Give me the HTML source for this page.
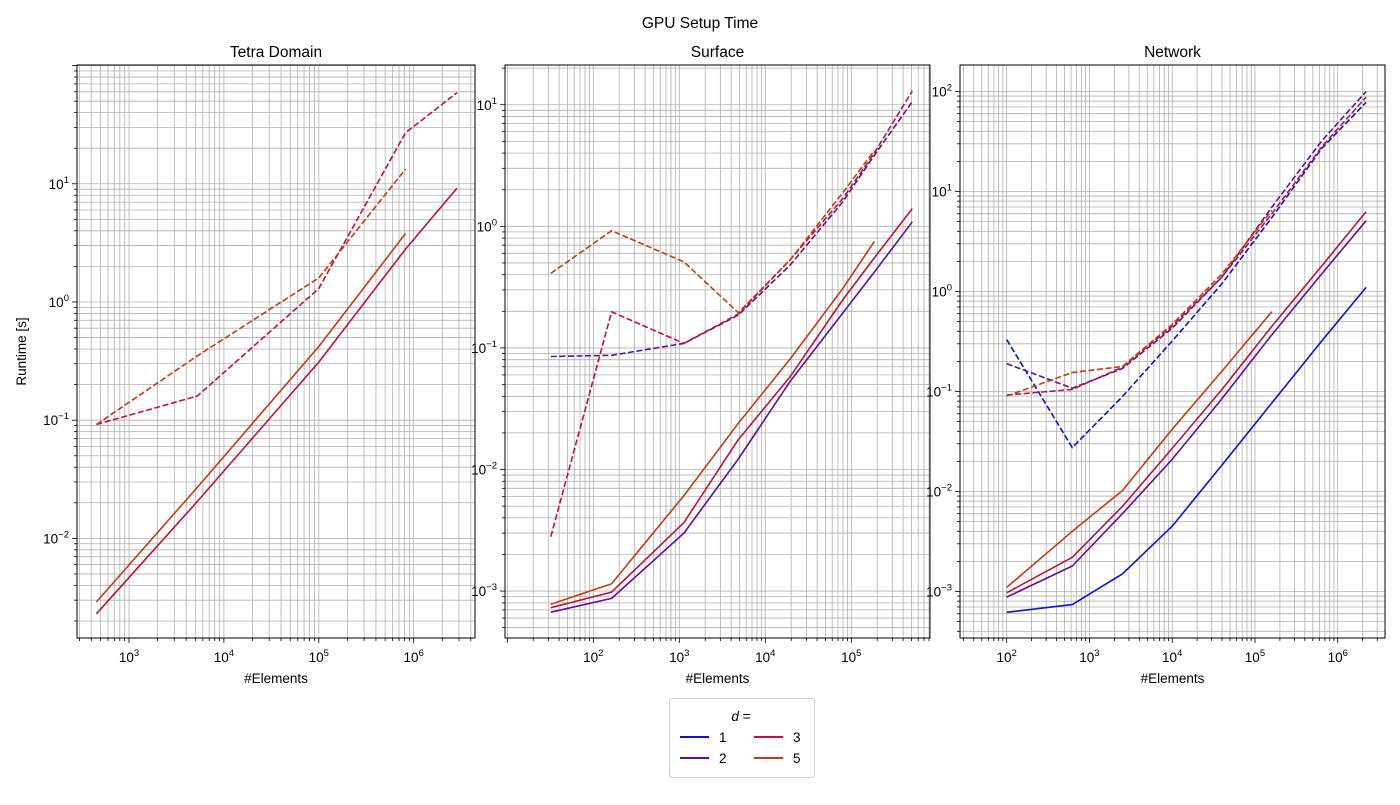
<!DOCTYPE html>
<html><head><meta charset="utf-8"><style>
body{margin:0;background:#fff}
svg text{font-family:"Liberation Sans","DejaVu Sans",sans-serif;fill:#000}
</style></head><body>
<svg id="chart" width="1400" height="800" viewBox="0 0 1400 800" xmlns="http://www.w3.org/2000/svg">
<text x="700" y="28" font-size="15.5" text-anchor="middle">GPU Setup Time</text>
<g id="legend">
<rect x="669.5" y="698.5" width="145" height="79" rx="3" fill="#fff" stroke="#d0d0d0"/>
<text x="741" y="721" font-size="13.5" text-anchor="middle"><tspan font-style="italic">d</tspan> =</text>
<g><line x1="680" y1="737" x2="709" y2="737" stroke="#0c10e0" stroke-width="2"/><text x="719" y="742" font-size="13.5">1</text></g>
<g><line x1="680" y1="758" x2="709" y2="758" stroke="#5f0fa0" stroke-width="2"/><text x="719" y="763" font-size="13.5">2</text></g>
<g><line x1="754" y1="737" x2="783" y2="737" stroke="#c2103a" stroke-width="2"/><text x="793" y="742" font-size="13.5">3</text></g>
<g><line x1="754" y1="758" x2="783" y2="758" stroke="#c43c0c" stroke-width="2"/><text x="793" y="763" font-size="13.5">5</text></g>
</g>
</svg>
<script>
// ---- data ----
const colors = {1:'#0c10e0',2:'#5f0fa0',3:'#c2103a',5:'#c43c0c'};
// Tetra Domain
const tetraX = [453, 5250, 100000, 820000, 2860000];
const tetraSolid3 = [0.0023, 0.0205, 0.31, 2.8, 9.2];
const tetraSolid5 = [0.0029, 0.027, 0.42, 3.8];
const tetraDash3 = [0.092, 0.16, 1.3, 27, 59];
const tetraDash5 = [0.092, 0.35, 1.6, 13.3];
// Surface
const surfX = [32, 163, 1130, 4850, 19400, 80000, 185000, 512000];
const surfSolid2 = [0.00067, 0.00087, 0.0030, 0.0122, 0.053, 0.195, 0.42, 1.09];
const surfSolid3 = [0.00073, 0.00098, 0.00366, 0.0176, 0.058, 0.25, 0.55, 1.4];
const surfSolid5 = [0.00078, 0.00115, 0.0061, 0.024, 0.081, 0.31, 0.75];
const surfDash2 = [0.085, 0.087, 0.109, 0.186, 0.48, 1.6, 3.84, 10.6];
const surfDash3 = [0.0028, 0.198, 0.109, 0.19, 0.53, 1.7, 4.0, 13];
const surfDash5 = [0.41, 0.92, 0.51, 0.195, 0.53, 1.9, 4.2];
// Network
const netX = [100, 620, 2500, 10000, 40000, 160000, 640000, 2200000];
const netSolid1 = [0.00062, 0.00074, 0.0015, 0.0045, 0.0184, 0.077, 0.32, 1.1];
const netSolid2 = [0.00088, 0.0018, 0.006, 0.021, 0.085, 0.37, 1.5, 5.1];
const netSolid3 = [0.00097, 0.0022, 0.0071, 0.027, 0.105, 0.45, 1.8, 6.3];
const netSolid5 = [0.0011, 0.004, 0.0102, 0.042, 0.16, 0.63];
const netDash1 = [0.33, 0.0275, 0.089, 0.32, 1.2, 5.5, 27, 78];
const netDash2 = [0.19, 0.108, 0.17, 0.43, 1.4, 7, 32, 100];
const netDash3 = [0.092, 0.105, 0.175, 0.45, 1.4, 6, 28, 88];
const netDash5 = [0.09, 0.155, 0.178, 0.47, 1.5, 6.5];

const panels = [
 {name:'tetra-domain', title:'Tetra Domain', L:77,R:475,T:65,B:638, xmin:2.452,xmax:6.646, ymin:-2.843,ymax:2.005, xt:[3,4,5,6], yt:[-2,-1,0,1], ylabel:true,
  series:[['d3-dashed',tetraX,tetraDash3,3,true],['d5-dashed',tetraX,tetraDash5,5,true],['d3-solid',tetraX,tetraSolid3,3,false],['d5-solid',tetraX,tetraSolid5,5,false]]},
 {name:'surface', title:'Surface', L:505,R:930,T:65,B:638, xmin:0.973,xmax:5.915, ymin:-3.386,ymax:1.327, xt:[2,3,4,5], yt:[-3,-2,-1,0,1],
  series:[['d2-dashed',surfX,surfDash2,2,true],['d3-dashed',surfX,surfDash3,3,true],['d5-dashed',surfX,surfDash5,5,true],['d2-solid',surfX,surfSolid2,2,false],['d3-solid',surfX,surfSolid3,3,false],['d5-solid',surfX,surfSolid5,5,false]]},
 {name:'network', title:'Network', L:960,R:1385,T:65,B:638, xmin:1.436,xmax:6.571, ymin:-3.465,ymax:2.265, xt:[2,3,4,5,6], yt:[-3,-2,-1,0,1,2],
  series:[['d1-dashed',netX,netDash1,1,true],['d2-dashed',netX,netDash2,2,true],['d3-dashed',netX,netDash3,3,true],['d5-dashed',netX,netDash5,5,true],['d1-solid',netX,netSolid1,1,false],['d2-solid',netX,netSolid2,2,false],['d3-solid',netX,netSolid3,3,false],['d5-solid',netX,netSolid5,5,false]]}
];

const NS='http://www.w3.org/2000/svg';
const svg=document.getElementById('chart');
const legend=document.getElementById('legend');
function mk(tag,attrs,parent){const e=document.createElementNS(NS,tag);for(const k in attrs)e.setAttribute(k,attrs[k]);(parent||svg).appendChild(e);return e;}

panels.forEach(p=>{
 const g=mk('g',{});
 
 
 svg.insertBefore(g,legend);
 const sx=v=>p.L+(Math.log10(v)-p.xmin)/(p.xmax-p.xmin)*(p.R-p.L);
 const sy=v=>p.B-(Math.log10(v)-p.ymin)/(p.ymax-p.ymin)*(p.B-p.T);
 const grid=mk('g',{stroke:'#b0b0b0','stroke-width':'0.8'},g);
 
 
 const ticks=mk('g',{stroke:'#000','stroke-width':'0.8'},g);
 for(let d=Math.floor(p.xmin);d<=Math.ceil(p.xmax);d++){
  for(let m=1;m<10;m++){const lv=d+Math.log10(m); if(lv<p.xmin||lv>p.xmax)continue;
   const x=sx(Math.pow(10,lv));
   mk('line',{x1:x,x2:x,y1:p.T,y2:p.B},grid);
   mk('line',{x1:x,x2:x,y1:p.B,y2:p.B+(m==1?5:3)},ticks);}
 }
 for(let d=Math.floor(p.ymin);d<=Math.ceil(p.ymax);d++){
  for(let m=1;m<10;m++){const lv=d+Math.log10(m); if(lv<p.ymin||lv>p.ymax)continue;
   const y=sy(Math.pow(10,lv));
   mk('line',{x1:p.L,x2:p.R,y1:y,y2:y},grid);
   mk('line',{x1:p.L-(m==1?5:3),x2:p.L,y1:y,y2:y},ticks);}
 }
 p.xt.forEach(e=>{const x=sx(Math.pow(10,e));
  const t=mk('text',{x:x,y:p.B+24,'font-size':'13.5','text-anchor':'middle'},g);
  
  
  t.innerHTML='10<tspan dy="-6" font-size="9.5">'+e+'</tspan>';});
 p.yt.forEach(e=>{const y=sy(Math.pow(10,e));
  const t=mk('text',{x:p.L-8,y:y+5,'font-size':'13.5','text-anchor':'end'},g);
  
  
  t.innerHTML='10<tspan dy="-6" font-size="9.5">'+(e<0?'\u2212'+(-e):e)+'</tspan>';});
 const lines=mk('g',{},g);
 p.series.forEach(s=>{
  const [nm,xs,ys,d,dash]=s;
  const pts=ys.map((v,i)=>sx(xs[i]).toFixed(1)+','+sy(v).toFixed(1)).join(' ');
  const pl=mk('polyline',{points:pts,fill:'none',stroke:colors[d],'stroke-width':'1.6','stroke-dasharray':dash?'6,2.6':'none','stroke-linejoin':'round'},lines);
  
  
 });
 const fr=mk('rect',{x:p.L,y:p.T,width:p.R-p.L,height:p.B-p.T,fill:'none',stroke:'#000','stroke-width':'1'},g);
 
 
 const tt=mk('text',{x:(p.L+p.R)/2,y:p.T-8,'font-size':'15.5','text-anchor':'middle'},g);
 
 
 tt.textContent=p.title;
 const xl=mk('text',{x:(p.L+p.R)/2,y:683,'font-size':'13.5','text-anchor':'middle'},g);
 
 
 xl.textContent='#Elements';
 if(p.ylabel){
  const yl=mk('text',{x:0,y:0,'font-size':'13.5','text-anchor':'middle',transform:'translate(26,'+((p.T+p.B)/2)+') rotate(-90)'},g);
  
  
  yl.textContent='Runtime [s]';
 }
});
</script>
</body></html>
